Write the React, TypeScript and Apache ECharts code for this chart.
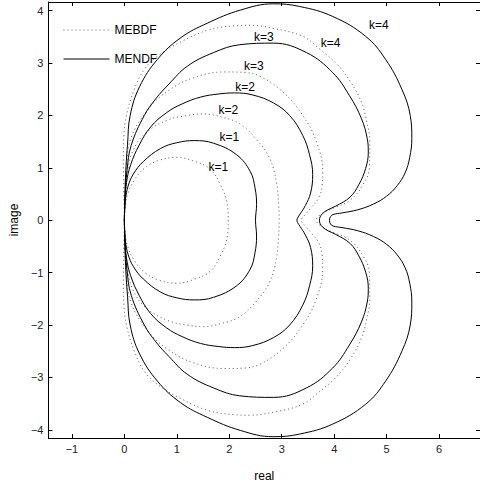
import React, { useEffect, useRef } from 'react';
import * as echarts from 'echarts';

const xTicks = [-1, 0, 1, 2, 3, 4, 5, 6];
const yTicks = [-4, -3, -2, -1, 0, 1, 2, 3, 4];

const mendfK1 = [
  [0, 0], [0.005, 0.2], [0.02, 0.4], [0.07, 0.65], [0.17, 0.88], [0.36, 1.12], [0.69, 1.37], [1.0, 1.48], [1.33, 1.52],
  [1.7, 1.47], [2.14, 1.25], [2.4, 0.93], [2.49, 0.62], [2.52, 0.3], [2.5, 0],
  [2.52, -0.3], [2.49, -0.62], [2.4, -0.93], [2.14, -1.25], [1.7, -1.47], [1.33, -1.52], [1.0, -1.48], [0.69, -1.37],
  [0.36, -1.12], [0.17, -0.88], [0.07, -0.65], [0.02, -0.4], [0.005, -0.2], [0, 0],
];
const mebdfK1 = [
  [0, 0], [0.02, 0.3], [0.07, 0.52], [0.19, 0.77], [0.38, 0.99], [0.65, 1.14], [1.0, 1.2], [1.35, 1.12], [1.64, 0.97],
  [1.83, 0.68], [1.95, 0.37], [1.98, 0], [1.95, -0.37], [1.83, -0.68], [1.64, -0.97], [1.35, -1.12], [1.0, -1.2],
  [0.65, -1.14], [0.38, -0.99], [0.19, -0.77], [0.07, -0.52], [0.02, -0.3], [0, 0],
];
const mendfK2 = [
  [0, 0], [0.01, 0.35], [0.04, 0.72], [0.12, 1.06], [0.28, 1.43], [0.5, 1.78], [0.8, 2.05], [1.1, 2.22], [1.45, 2.35],
  [1.8, 2.41], [2.1, 2.43], [2.45, 2.39], [2.84, 2.24], [3.15, 2.0], [3.4, 1.62], [3.53, 1.25], [3.59, 0.87],
  [3.55, 0.52], [3.45, 0.28], [3.35, 0.12], [3.3, 0.04], [3.29, 0],
  [3.3, -0.04], [3.35, -0.12], [3.45, -0.28], [3.55, -0.52], [3.59, -0.87], [3.53, -1.25], [3.4, -1.62], [3.15, -2.0],
  [2.84, -2.24], [2.45, -2.39], [2.1, -2.43], [1.8, -2.41], [1.45, -2.35], [1.1, -2.22], [0.8, -2.05], [0.5, -1.78],
  [0.28, -1.43], [0.12, -1.06], [0.04, -0.72], [0.01, -0.35], [0, 0],
];
const mebdfK2 = [
  [0, 0], [0.02, 0.45], [0.06, 0.93], [0.16, 1.32], [0.4, 1.66], [0.82, 1.91], [1.2, 2.0], [1.5, 2.03], [1.85, 1.97],
  [2.2, 1.84], [2.52, 1.54], [2.77, 1.18], [2.9, 0.72], [2.94, 0.3], [2.95, 0],
  [2.94, -0.3], [2.9, -0.72], [2.77, -1.18], [2.52, -1.54], [2.2, -1.84], [1.85, -1.97], [1.5, -2.03], [1.2, -2.0],
  [0.82, -1.91], [0.4, -1.66], [0.16, -1.32], [0.06, -0.93], [0.02, -0.45], [0, 0],
];
const mendfK3 = [
  [0, 0], [0.01, 0.4], [0.05, 0.95], [0.13, 1.43], [0.38, 2.0], [0.6, 2.32], [0.85, 2.6], [1.2, 2.94], [1.7, 3.2],
  [2.2, 3.35], [2.84, 3.38], [3.47, 3.2], [3.97, 2.82], [4.29, 2.38], [4.52, 1.94], [4.63, 1.56], [4.65, 1.3],
  [4.6, 0.99], [4.47, 0.68], [4.3, 0.44], [4.03, 0.27], [3.88, 0.2], [3.78, 0.13], [3.73, 0.06], [3.72, 0],
  [3.73, -0.06], [3.78, -0.13], [3.88, -0.2], [4.03, -0.27], [4.3, -0.44], [4.47, -0.68], [4.6, -0.99], [4.65, -1.3],
  [4.63, -1.56], [4.52, -1.94], [4.29, -2.38], [3.97, -2.82], [3.47, -3.2], [2.84, -3.38], [2.2, -3.35], [1.7, -3.2],
  [1.2, -2.94], [0.85, -2.6], [0.6, -2.32], [0.38, -2.0], [0.13, -1.43], [0.05, -0.95], [0.01, -0.4], [0, 0],
];
const mebdfK3 = [
  [0, 0], [0.01, 0.5], [0.04, 1.05], [0.13, 1.58], [0.44, 2.1], [0.82, 2.46], [1.32, 2.72], [1.92, 2.83], [2.3, 2.82],
  [2.6, 2.74], [3.02, 2.45], [3.4, 2.0], [3.66, 1.5], [3.78, 0.93], [3.77, 0.66], [3.7, 0.42], [3.56, 0.24],
  [3.44, 0.1], [3.38, 0.03], [3.37, 0],
  [3.38, -0.03], [3.44, -0.1], [3.56, -0.24], [3.7, -0.42], [3.77, -0.66], [3.78, -0.93], [3.66, -1.5], [3.4, -2.0],
  [3.02, -2.45], [2.6, -2.74], [2.3, -2.82], [1.92, -2.83], [1.32, -2.72], [0.82, -2.46], [0.44, -2.1], [0.13, -1.58],
  [0.04, -1.05], [0.01, -0.5], [0, 0],
];
const mendfK4 = [
  [0, 0], [0.01, 0.5], [0.03, 1.0], [0.06, 1.45], [0.11, 2.0], [0.29, 2.55], [0.63, 3.07], [1.07, 3.48], [1.58, 3.76],
  [2.21, 4.01], [2.84, 4.13], [3.34, 4.08], [3.97, 3.89], [4.6, 3.51], [4.98, 3.07], [5.29, 2.5], [5.45, 2.0],
  [5.48, 1.56], [5.44, 1.2], [5.35, 0.9], [5.2, 0.66], [5.0, 0.46], [4.75, 0.31], [4.45, 0.2], [4.15, 0.14],
  [3.98, 0.11], [3.93, 0.07], [3.91, 0],
  [3.93, -0.07], [3.98, -0.11], [4.15, -0.14], [4.45, -0.2], [4.75, -0.31], [5.0, -0.46], [5.2, -0.66], [5.35, -0.9],
  [5.44, -1.2], [5.48, -1.56], [5.45, -2.0], [5.29, -2.5], [4.98, -3.07], [4.6, -3.51], [3.97, -3.89], [3.34, -4.08],
  [2.84, -4.13], [2.21, -4.01], [1.58, -3.76], [1.07, -3.48], [0.63, -3.07], [0.29, -2.55], [0.11, -2.0], [0.06, -1.45],
  [0.03, -1.0], [0.01, -0.5], [0, 0],
];
const mebdfK4 = [
  [0, 0], [-0.01, 0.6], [-0.02, 1.2], [-0.01, 1.6], [0.04, 2.0], [0.19, 2.5], [0.38, 2.88], [0.63, 3.13], [1.07, 3.4],
  [1.6, 3.63], [2.1, 3.71], [2.4, 3.72], [2.85, 3.66], [3.4, 3.51], [3.72, 3.27], [4.05, 2.98], [4.32, 2.63],
  [4.52, 2.25], [4.62, 1.88], [4.68, 1.5], [4.67, 1.0], [4.55, 0.68], [4.3, 0.38], [4.03, 0.25], [3.84, 0.17],
  [3.72, 0.09], [3.665, 0.03], [3.66, 0],
  [3.665, -0.03], [3.72, -0.09], [3.84, -0.17], [4.03, -0.25], [4.3, -0.38], [4.55, -0.68], [4.67, -1.0], [4.68, -1.5],
  [4.62, -1.88], [4.52, -2.25], [4.32, -2.63], [4.05, -2.98], [3.72, -3.27], [3.4, -3.51], [2.85, -3.66], [2.4, -3.72],
  [2.1, -3.71], [1.6, -3.63], [1.07, -3.4], [0.63, -3.13], [0.38, -2.88], [0.19, -2.5], [0.04, -2.0], [-0.01, -1.6],
  [-0.02, -1.2], [-0.01, -0.6], [0, 0],
];

const labelTexts = ['k=1', 'k=1', 'k=2', 'k=2', 'k=3', 'k=3', 'k=4', 'k=4'];
const labelPositions = [
  [2.0, 1.58], [1.79, 1.01], [2.3, 2.54], [1.98, 2.11], [2.66, 3.5], [2.47, 2.94], [4.85, 3.73], [3.93, 3.39],
];

const FONT = "'Liberation Sans', Arial, Helvetica, sans-serif";
const minus = (v: number) => String(v).replace('-', '\u2212');

export default function App() {
  const ref = useRef<HTMLDivElement>(null);
  useEffect(() => {
    document.body.style.margin = '0';
    const chart = echarts.init(ref.current!, null, { renderer: 'svg' });
    const curve = (name: string, data: number[][], dotted: boolean) => ({
      type: 'line',
      name,
      data,
      symbol: 'none',
      smooth: 0.4,
      silent: true,
      z: dotted ? 2 : 3,
      itemStyle: { color: dotted ? '#555' : '#000' },
      lineStyle: {
        color: dotted ? '#555' : '#000',
        width: 1,
        type: dotted ? [1, 3] : 'solid',
      },
    });
    const xBase = {
      type: 'value',
      min: -1.448,
      max: 6.78,
      splitLine: { show: false },
      axisLine: { show: true, onZero: false, lineStyle: { color: '#000', width: 1 } },
      axisTick: { show: true, inside: true, length: 4, customValues: xTicks, lineStyle: { color: '#000' } },
    };
    const yBase = {
      type: 'value',
      min: -4.155,
      max: 4.165,
      splitLine: { show: false },
      axisLine: { show: true, onZero: false, lineStyle: { color: '#000', width: 1 } },
      axisTick: { show: true, inside: true, length: 4, customValues: yTicks, lineStyle: { color: '#000' } },
    };
    chart.setOption({
      animation: false,
      textStyle: { fontFamily: FONT },
      grid: { left: 46.7, right: -2, top: 2, bottom: 44.3, containLabel: false },
      legend: {
        data: ['MEBDF', 'MENDF'],
        orient: 'vertical',
        left: 58,
        top: 19,
        itemWidth: 46,
        itemHeight: 14,
        itemGap: 17,
        itemStyle: { color: 'transparent', borderColor: 'transparent', borderWidth: 0, opacity: 0 },
        lineStyle: { width: 1 },
        textStyle: { fontSize: 12, color: '#000', fontFamily: FONT },
      },
      xAxis: [
        {
          ...xBase,
          position: 'bottom',
          name: 'real',
          nameLocation: 'middle',
          nameGap: 32,
          nameTextStyle: { fontSize: 12, color: '#000', fontFamily: FONT },
          axisLabel: { show: true, customValues: xTicks, formatter: minus, fontSize: 11, color: '#222', margin: 5, fontFamily: FONT },
        },
        { ...xBase, position: 'top', axisLabel: { show: false } },
      ],
      yAxis: [
        {
          ...yBase,
          position: 'left',
          name: 'image',
          nameLocation: 'middle',
          nameGap: 27,
          nameTextStyle: { fontSize: 12, color: '#000', fontFamily: FONT },
          axisLabel: { show: true, customValues: yTicks, formatter: minus, fontSize: 11, color: '#222', margin: 5, fontFamily: FONT },
        },
        { ...yBase, position: 'right', axisLabel: { show: false } },
      ],
      series: [
        curve('MEBDF', mebdfK1, true),
        curve('MEBDF', mebdfK2, true),
        curve('MEBDF', mebdfK3, true),
        curve('MEBDF', mebdfK4, true),
        curve('MENDF', mendfK1, false),
        curve('MENDF', mendfK2, false),
        curve('MENDF', mendfK3, false),
        curve('MENDF', mendfK4, false),
      ],
    });
    const texts = labelPositions.map((p, i) => {
      const px = chart.convertToPixel({ xAxisIndex: 0, yAxisIndex: 0 }, p) as number[];
      return {
        type: 'text',
        x: px[0],
        y: px[1],
        silent: true,
        z: 10,
        style: {
          text: labelTexts[i],
          fill: '#000',
          font: `12px ${FONT}`,
          align: 'center',
          verticalAlign: 'middle',
        },
      };
    });
    chart.setOption({ graphic: texts });
    return () => chart.dispose();
  }, []);
  return <div ref={ref} style={{ width: 480, height: 487 }} />;
}
